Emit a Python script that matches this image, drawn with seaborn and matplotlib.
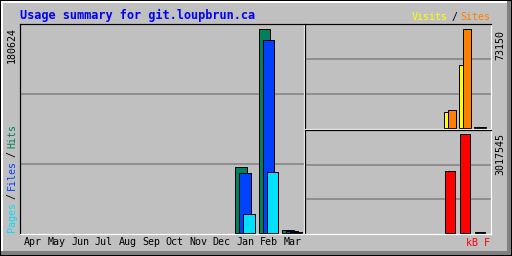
import numpy as np
import pandas as pd
import matplotlib
matplotlib.use("Agg")
import matplotlib.pyplot as plt
from matplotlib.patches import Rectangle
import seaborn as sns

# ---------------- data ----------------
title = "Usage summary for git.loupbrun.ca"
months = ['Apr', 'May', 'Jun', 'Jul', 'Aug', 'Sep', 'Oct', 'Nov', 'Dec', 'Jan', 'Feb', 'Mar']
hits = [0, 0, 0, 0, 0, 0, 0, 0, 0, 58400, 180624, 2200]
files = [0, 0, 0, 0, 0, 0, 0, 0, 0, 53100, 170900, 900]
pages = [0, 0, 0, 0, 0, 0, 0, 0, 0, 16800, 54000, 300]
visits = [0, 0, 0, 0, 0, 0, 0, 0, 0, 11900, 46300, 500]
sites = [0, 0, 0, 0, 0, 0, 0, 0, 0, 13200, 73150, 600]
kbytes = [0, 0, 0, 0, 0, 0, 0, 0, 0, 1878000, 3017545, 20000]

C_HITS, C_FILES, C_PAGES = '#00805C', '#0040FF', '#00E0FF'
C_VISITS, C_SITES, C_KB = '#FFFF00', '#FF8000', '#FF0000'
BG = '#C0C0C0'
GRID = '#808080'

sns.set_theme(style="white")
plt.rcParams['font.family'] = ['DejaVu Sans Mono', 'DejaVu Sans']

W, H = 512, 256
fig = plt.figure(figsize=(W / 100, H / 100), dpi=100)
fig.patch.set_facecolor(BG)

PX = 1 / 100 * 72  # one pixel in points


def box(l, t, r, b):
    return [l / W, 1 - b / H, (r - l) / W, (b - t) / H]


# outer bevel frame
def frect(x, y, w, h, c):
    fig.add_artist(Rectangle((x / W, 1 - (y + h) / H), w / W, h / H,
                             transform=fig.transFigure, facecolor=c,
                             edgecolor='none', zorder=-5))


frect(0, 0, W, H, 'black')
frect(1, 1, W - 2, H - 2, '#808080')
frect(1, 1, W - 6, H - 6, 'white')
frect(3, 3, W - 8, H - 8, BG)


def style_axes(ax, xlim, ylim):
    ax.set_facecolor(BG)
    ax.set_xlim(*xlim)
    ax.set_ylim(*ylim)
    ax.set_xlabel('')
    ax.set_ylabel('')
    for s in ('left', 'top'):
        ax.spines[s].set_color('black')
        ax.spines[s].set_linewidth(PX * 1.2)
    for s in ('right', 'bottom'):
        ax.spines[s].set_color('white')
        ax.spines[s].set_linewidth(PX * 1.2)
    for s in ax.spines.values():
        s.set_visible(True)
    y0, y1 = ylim
    ax.set_yticks([y0 + (y1 - y0) / 3, y0 + 2 * (y1 - y0) / 3])
    ax.set_yticklabels([])
    ax.tick_params(axis='y', length=0)
    ax.grid(axis='y', color=GRID, linewidth=PX * 1.5)
    ax.grid(axis='x', visible=False)
    ax.set_axisbelow(True)


def bars(ax, vals, offset, width, color):
    idx = np.arange(len(vals))
    v = np.asarray(vals, dtype=float)
    m = v > 0
    df = pd.DataFrame({'x': idx[m] + offset, 'y': v[m]})
    sns.barplot(data=df, x='x', y='y', native_scale=True, width=width,
                color=color, saturation=1, edgecolor='black',
                linewidth=PX, errorbar=None, ax=ax)


# ---------------- main panel (hits/files/pages) ----------------
ax1 = fig.add_axes(box(20, 24, 304, 234))
bars(ax1, hits, -0.187, 0.484, C_HITS)
bars(ax1, files, -0.017, 0.484, C_FILES)
bars(ax1, pages, 0.153, 0.484, C_PAGES)
m1 = max(hits)
style_axes(ax1, (-0.564, 11.485), (-m1 * 1.5 / 203.5, m1 * 208.5 / 203.5))
ax1.set_xticks(range(len(months)))
ax1.set_xticklabels(months, fontsize=7.2, color='black')
ax1.tick_params(axis='x', length=0, pad=2.5)

# ---------------- right top (visits/sites) ----------------
ax2 = fig.add_axes(box(305, 24, 491, 128.5))
bars(ax2, visits, 0.0, 0.493, C_VISITS)
bars(ax2, sites, 0.267, 0.493, C_SITES)
m2 = max(sites)
style_axes(ax2, (-0.533, 11.867), (-m2 * 1.0 / 98, m2 * 103.5 / 98))
ax2.set_xticks([])

# ---------------- right bottom (kbytes) ----------------
ax3 = fig.add_axes(box(305, 130, 491, 234))
bars(ax3, kbytes, 0.133, 0.627, C_KB)
m3 = max(kbytes)
style_axes(ax3, (-0.533, 11.867), (-m3 * 1.5 / 98.2, m3 * 102.5 / 98.2))
ax3.set_xticks([])

# ---------------- texts ----------------
FS = 7.2
fig.text(20 / W, 1 - 15 / H, title, color='#0000FF', fontsize=8.6,
         fontweight='bold', ha='left', va='center')

fig.text(12 / W, 1 - 27 / H, str(m1), rotation=90, fontsize=FS,
         color='black', ha='center', va='top')
fig.text(500 / W, 1 - 30 / H, str(m2), rotation=90, fontsize=FS,
         color='black', ha='center', va='top')
fig.text(500 / W, 1 - 133 / H, str(m3), rotation=90, fontsize=FS,
         color='black', ha='center', va='top')
fig.text(490 / W, 1 - 243 / H, 'kB F', fontsize=FS, color=C_KB,
         ha='right', va='center')

renderer = fig.canvas.get_renderer()

# "Visits / Sites" right aligned at x=490
xr = 490
for s, c in [('Sites', C_SITES), ('/', 'black'), ('Visits', C_VISITS)]:
    t = fig.text(xr / W, 1 - 17 / H, s, fontsize=FS, color=c,
                 ha='right', va='center')
    bb = t.get_window_extent(renderer)
    xr = bb.x0 - 3

# "Pages / Files / Hits" vertical, starting at bottom y=232
yb = H - 232
for s, c in [('Pages', C_PAGES), ('/', 'black'), ('Files', C_FILES),
             ('/', 'black'), ('Hits', C_HITS)]:
    t = fig.text(12 / W, yb / H, s, fontsize=FS, color=c, rotation=90,
                 ha='center', va='bottom')
    bb = t.get_window_extent(renderer)
    yb = bb.y1 + 3

fig.savefig('out.png', dpi=100, facecolor=fig.get_facecolor())
